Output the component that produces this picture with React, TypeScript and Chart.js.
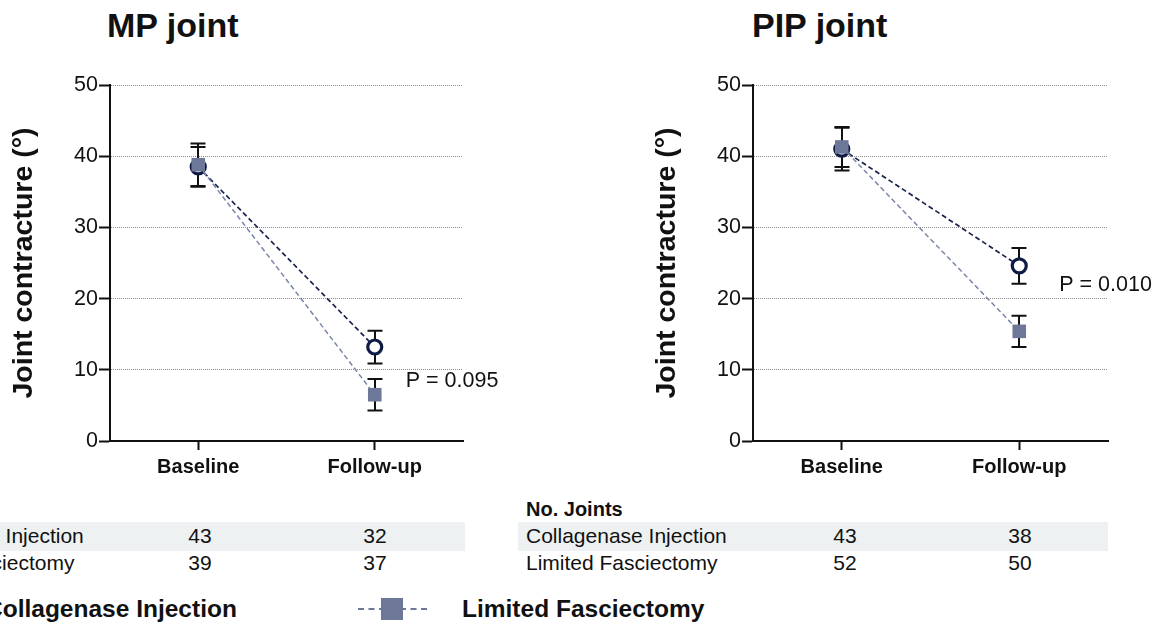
import React, { useEffect, useRef } from "react";
import { Chart, registerables } from "chart.js";

Chart.register(...registerables);

const FONT = "'Liberation Sans', Arial, Helvetica, sans-serif";

// ---- data ----
const categories = ["Baseline", "Follow-up"];
const seriesNames = ["Collagenase Injection", "Limited Fasciectomy"];
const yTickValues = [0, 10, 20, 30, 40, 50];

const mpCollagenase = [38.5, 13.2];
const mpCollagenaseErr = [2.8, 2.3];
const mpFasciectomy = [38.8, 6.5];
const mpFasciectomyErr = [3.0, 2.2];
const mpPText = "P = 0.095";
const mpPAt = 8.4;

const pipCollagenase = [41.0, 24.6];
const pipCollagenaseErr = [3.0, 2.5];
const pipFasciectomy = [41.3, 15.4];
const pipFasciectomyErr = [2.8, 2.2];
const pipPText = "P = 0.010";
const pipPAt = 21.9;

const mpJointsCollagenase = [43, 32];
const mpJointsFasciectomy = [39, 37];
const pipJointsCollagenase = [43, 38];
const pipJointsFasciectomy = [52, 50];

// ---- styles ----
const COLL_LINE = "#18224c";
const COLL_POINT = "#0f1a45";
const FASC_LINE = "#7b87a8";
const FASC_POINT = "#6d7899";
const INK = "#111111";

function makePlugins(pText: string, pAt: number, pOffset: number) {
  const errorBars = {
    id: "errorBars",
    beforeDatasetsDraw(chart: any) {
      const { ctx, scales } = chart;
      const xs = scales.x;
      const ys = scales.y;
      ctx.save();
      ctx.setLineDash([]);
      ctx.strokeStyle = INK;
      ctx.lineWidth = 2;
      chart.data.datasets.forEach((ds: any) => {
        const errs: number[] = ds.errors || [];
        ds.data.forEach((v: number, i: number) => {
          const e = errs[i];
          if (e == null) return;
          const px = Math.round(xs.getPixelForValue(i));
          const top = ys.getPixelForValue(v + e);
          const bot = ys.getPixelForValue(v - e);
          const half = 7.5;
          ctx.beginPath();
          ctx.moveTo(px, top);
          ctx.lineTo(px, bot);
          ctx.moveTo(px - half, top);
          ctx.lineTo(px + half, top);
          ctx.moveTo(px - half, bot);
          ctx.lineTo(px + half, bot);
          ctx.stroke();
        });
      });
      ctx.restore();
    },
  };
  const pValue = {
    id: "pValue",
    afterDraw(chart: any) {
      const { ctx, scales } = chart;
      const x = scales.x.getPixelForValue(1) + pOffset;
      const y = scales.y.getPixelForValue(pAt);
      ctx.save();
      ctx.font = `21.5px ${FONT}`;
      ctx.fillStyle = INK;
      ctx.textAlign = "left";
      ctx.textBaseline = "middle";
      ctx.fillText(pText, x, y);
      ctx.restore();
    },
  };
  return [errorBars, pValue];
}

function makeConfig(
  coll: number[],
  collErr: number[],
  fasc: number[],
  fascErr: number[],
  pText: string,
  pAt: number,
  pOffset: number,
  rightPad: number
): any {
  return {
    type: "line",
    data: {
      labels: categories,
      datasets: [
        {
          label: seriesNames[0],
          data: coll,
          errors: collErr,
          borderColor: COLL_LINE,
          borderWidth: 1.7,
          borderDash: [5, 3],
          fill: false,
          tension: 0,
          pointStyle: "circle",
          pointRadius: 7,
          pointBorderWidth: 3.2,
          pointBorderColor: COLL_POINT,
          pointBackgroundColor: "#ffffff",
          order: 1,
          clip: false,
        },
        {
          label: seriesNames[1],
          data: fasc,
          errors: fascErr,
          borderColor: FASC_LINE,
          borderWidth: 1.5,
          borderDash: [5, 3],
          fill: false,
          tension: 0,
          pointStyle: "rect",
          pointRadius: 9.6,
          pointBorderWidth: 0,
          pointBorderColor: FASC_POINT,
          pointBackgroundColor: FASC_POINT,
          order: 0,
          clip: false,
        },
      ],
    },
    options: {
      animation: false,
      responsive: false,
      devicePixelRatio: 1,
      layout: { padding: { top: 85, right: rightPad, bottom: 0, left: 0 } },
      plugins: {
        legend: { display: false },
        tooltip: { enabled: false },
        title: { display: false },
      },
      scales: {
        x: {
          type: "category",
          offset: true,
          grid: {
            display: true,
            drawOnChartArea: false,
            drawTicks: true,
            offset: false,
            tickLength: 9,
            tickColor: INK,
            tickWidth: 2,
            tickBorderDash: [],
          },
          border: { display: true, color: INK, width: 2 },
          ticks: {
            color: INK,
            font: { family: FONT, size: 20, weight: "bold" },
            padding: 5,
            maxRotation: 0,
            autoSkip: false,
          },
          afterFit: (scale: any) => {
            scale.height = 49;
          },
        },
        y: {
          type: "linear",
          min: 0,
          max: 50,
          afterBuildTicks: (scale: any) => {
            scale.ticks = yTickValues.map((v) => ({ value: v }));
          },
          grid: {
            display: true,
            drawOnChartArea: true,
            drawTicks: true,
            color: "#8c8c8c",
            lineWidth: 1,
            tickLength: 11,
            tickColor: INK,
            tickWidth: 2,
            tickBorderDash: [],
          },
          border: { display: true, color: INK, width: 2, dash: [1, 1] },
          ticks: {
            color: INK,
            font: { family: FONT, size: 21.5 },
            padding: 1,
          },
          title: {
            display: true,
            text: "Joint contracture (°)",
            color: INK,
            font: { family: FONT, size: 28.5, weight: "bold" },
            padding: { top: 7, bottom: 0 },
          },
          afterFit: (scale: any) => {
            scale.width = 110;
          },
        },
      },
    },
    plugins: makePlugins(pText, pAt, pOffset),
  };
}

function ChartCanvas(props: {
  left: number;
  width: number;
  height: number;
  config: () => any;
}) {
  const ref = useRef<HTMLCanvasElement | null>(null);
  useEffect(() => {
    if (!ref.current) return;
    const chart = new Chart(ref.current, props.config());
    return () => chart.destroy();
  }, []);
  return (
    <canvas
      ref={ref}
      width={props.width}
      height={props.height}
      style={{
        position: "absolute",
        left: props.left,
        top: 0,
        width: props.width,
        height: props.height,
      }}
    />
  );
}

function Txt(props: {
  x: number;
  y: number;
  size: number;
  bold?: boolean;
  center?: boolean;
  children: React.ReactNode;
}) {
  return (
    <div
      style={{
        position: "absolute",
        left: props.x,
        top: props.y,
        transform: `translate(${props.center ? "-50%" : "0"}, -50%)`,
        fontFamily: FONT,
        fontSize: props.size,
        fontWeight: props.bold ? 700 : 400,
        color: INK,
        whiteSpace: "nowrap",
        lineHeight: 1.15,
      }}
    >
      {props.children}
    </div>
  );
}

function JointsTable(props: {
  dx: number;
  coll: number[];
  fasc: number[];
  colX: number[];
}) {
  const { dx, coll, fasc, colX } = props;
  return (
    <>
      <div
        style={{
          position: "absolute",
          left: 518 + dx,
          top: 522,
          width: 590,
          height: 29,
          background: "#eef1f1",
        }}
      />
      <Txt x={526 + dx} y={509} size={20} bold>
        No. Joints
      </Txt>
      <Txt x={526 + dx} y={536} size={21}>
        {seriesNames[0]}
      </Txt>
      <Txt x={526 + dx} y={563} size={21}>
        {seriesNames[1]}
      </Txt>
      {coll.map((v, i) => (
        <Txt key={"c" + i} x={colX[i]} y={536} size={21} center>
          {v}
        </Txt>
      ))}
      {fasc.map((v, i) => (
        <Txt key={"f" + i} x={colX[i]} y={563} size={21} center>
          {v}
        </Txt>
      ))}
    </>
  );
}

const titleStyle: React.CSSProperties = {
  position: "absolute",
  top: 8,
  fontFamily: FONT,
  fontSize: 34,
  fontWeight: 700,
  lineHeight: 1,
  color: INK,
  whiteSpace: "nowrap",
};

export default function App() {
  return (
    <div
      style={{
        position: "absolute",
        left: 0,
        top: 0,
        width: 1168,
        height: 626,
        overflow: "hidden",
        background: "#ffffff",
      }}
    >
      <div style={{ ...titleStyle, left: 107 }}>MP joint</div>
      <div style={{ ...titleStyle, left: 752 }}>PIP joint</div>

      <ChartCanvas
        left={0}
        width={560}
        height={490}
        config={() =>
          makeConfig(
            mpCollagenase,
            mpCollagenaseErr,
            mpFasciectomy,
            mpFasciectomyErr,
            mpPText,
            mpPAt,
            31,
            97
          )
        }
      />
      <ChartCanvas
        left={643}
        width={525}
        height={490}
        config={() =>
          makeConfig(
            pipCollagenase,
            pipCollagenaseErr,
            pipFasciectomy,
            pipFasciectomyErr,
            pipPText,
            pipPAt,
            40,
            60
          )
        }
      />

      <JointsTable
        dx={-643}
        coll={mpJointsCollagenase}
        fasc={mpJointsFasciectomy}
        colX={[200, 375]}
      />
      <JointsTable
        dx={0}
        coll={pipJointsCollagenase}
        fasc={pipJointsFasciectomy}
        colX={[845, 1020]}
      />

      {/* legend */}
      <Txt x={-15} y={609} size={24.5} bold>
        {seriesNames[0]}
      </Txt>
      <div
        style={{
          position: "absolute",
          left: 358,
          top: 608,
          width: 69,
          height: 0,
          borderTop: `2px dashed ${FASC_POINT}`,
        }}
      />
      <div
        style={{
          position: "absolute",
          left: 381,
          top: 598,
          width: 22,
          height: 22,
          background: FASC_POINT,
        }}
      />
      <Txt x={462} y={609} size={24.5} bold>
        {seriesNames[1]}
      </Txt>
    </div>
  );
}
